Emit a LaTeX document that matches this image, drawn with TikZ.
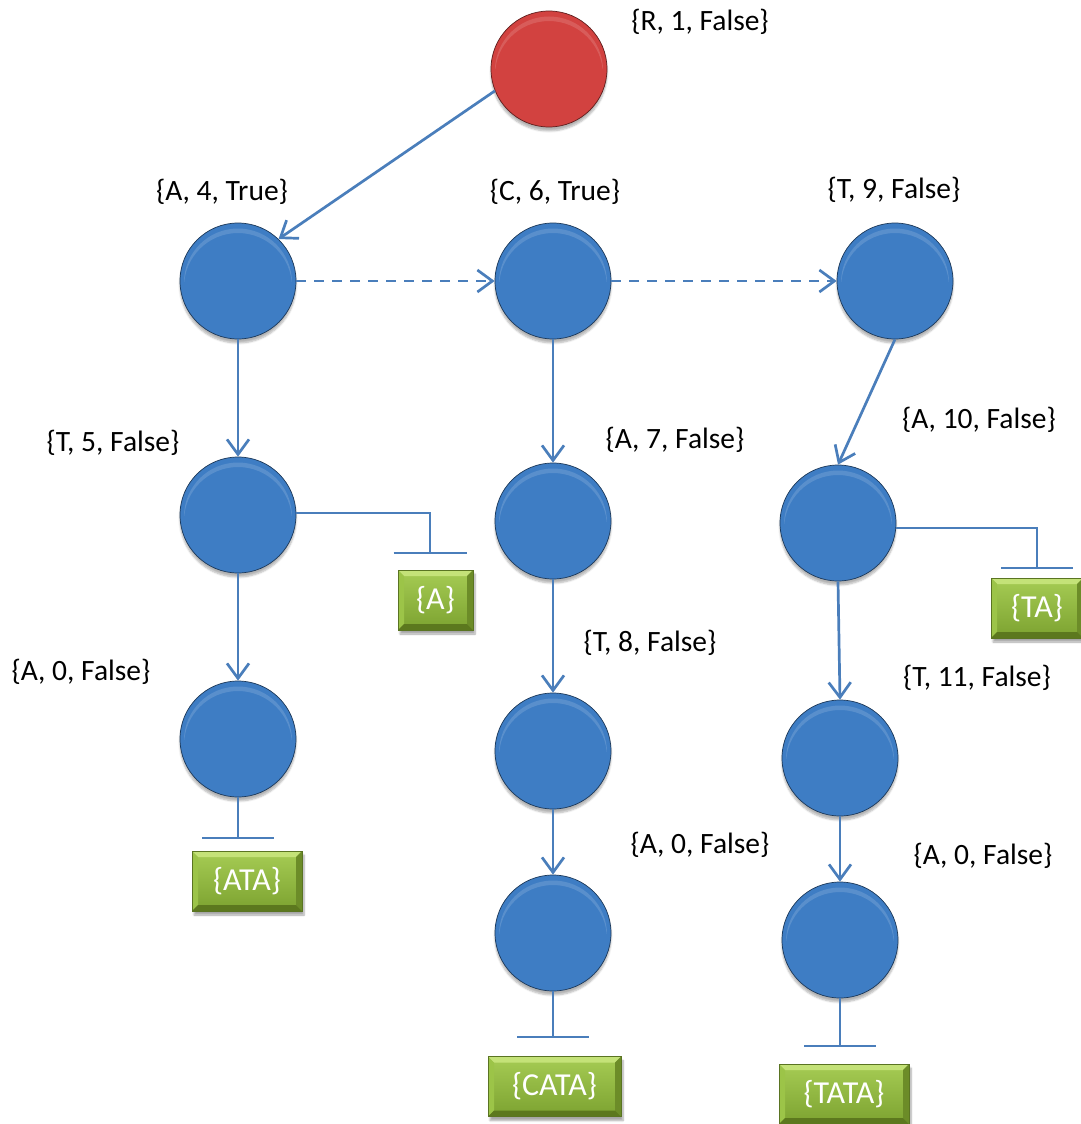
\documentclass[tikz,border=0pt]{standalone}
\usepackage{fontspec}
\setmainfont{Carlito}
\usetikzlibrary{arrows.meta,shadows.blur}

\definecolor{lineblue}{RGB}{74,126,187}
\definecolor{ballblue}{RGB}{62,125,196}
\definecolor{ballred}{RGB}{210,66,64}
\definecolor{gfacetop}{RGB}{166,204,84}
\definecolor{gfacebot}{RGB}{124,162,48}
\definecolor{gbevtop}{RGB}{196,226,120}
\definecolor{gbevleft}{RGB}{156,196,72}
\definecolor{gbevright}{RGB}{108,140,40}
\definecolor{gbevbot}{RGB}{92,120,30}
\definecolor{gedge}{RGB}{90,116,34}

% bevelled sphere look: flat face, darker rim
\pgfdeclareradialshading{bluebevel}{\pgfpoint{0bp}{2bp}}{%
  color(0bp)=(ballblue); color(38bp)=(ballblue);
  color(46bp)=(ballblue!76!black); color(50bp)=(ballblue!50!black)}
\pgfdeclareradialshading{redbevel}{\pgfpoint{0bp}{2bp}}{%
  color(0bp)=(ballred); color(38bp)=(ballred);
  color(46bp)=(ballred!76!black); color(50bp)=(ballred!50!black)}

\tikzset{
  ball/.style={circle, minimum size=116pt, inner sep=0pt, line width=0.7pt,
    blur shadow={shadow xshift=0pt, shadow yshift=-4pt, shadow opacity=30, shadow blur steps=6},
    path picture={
      \begin{scope}
        \clip ([xshift=-60pt]path picture bounding box.center) rectangle
              ([xshift=60pt,yshift=60pt]path picture bounding box.center);
        \fill[white, opacity=.14, even odd rule]
          ([yshift=-1.5pt]path picture bounding box.center) circle (54pt)
          ([yshift=-6pt]path picture bounding box.center) circle (54pt);
      \end{scope}}},
  blueball/.style={ball, shading=bluebevel, draw=ballblue!45!black},
  redball/.style={ball, shading=redbevel, draw=ballred!45!black},
  gbox/.style={rectangle, minimum height=60pt, inner sep=0pt,
    text=white, font=\fontsize{32}{36}\selectfont,
    draw=gedge, line width=0.6pt, top color=gfacetop, bottom color=gfacebot,
    blur shadow={shadow xshift=2pt, shadow yshift=-4pt, shadow opacity=35, shadow blur steps=6},
    path picture={
      \fill[gbevtop] (path picture bounding box.north west) -- (path picture bounding box.north east)
        -- ([xshift=-6pt,yshift=-6pt]path picture bounding box.north east)
        -- ([xshift=6pt,yshift=-6pt]path picture bounding box.north west) -- cycle;
      \fill[gbevleft] (path picture bounding box.north west) -- (path picture bounding box.south west)
        -- ([xshift=6pt,yshift=6pt]path picture bounding box.south west)
        -- ([xshift=6pt,yshift=-6pt]path picture bounding box.north west) -- cycle;
      \fill[gbevright] (path picture bounding box.north east) -- (path picture bounding box.south east)
        -- ([xshift=-6pt,yshift=6pt]path picture bounding box.south east)
        -- ([xshift=-6pt,yshift=-6pt]path picture bounding box.north east) -- cycle;
      \fill[gbevbot] (path picture bounding box.south west) -- (path picture bounding box.south east)
        -- ([xshift=-6pt,yshift=6pt]path picture bounding box.south east)
        -- ([xshift=6pt,yshift=6pt]path picture bounding box.south west) -- cycle;}},
  lab/.style={inner sep=0pt, text=black, font=\fontsize{29.5}{34}\selectfont},
  arr/.style={draw=lineblue, line width=2.7pt,
    -{Straight Barb[length=15pt, width=22pt, line width=2.7pt]}},
  dashedarr/.style={arr, dash pattern=on 10pt off 8pt},
  term/.style={draw=lineblue, line width=2.6pt},
}

\begin{document}
\begin{tikzpicture}[x=1pt, y=-1pt]
  \useasboundingbox (0,0) rectangle (1081,1124);

  % tree nodes
  \node[redball]  (r1)  at (549,69)  {};
  \node[blueball] (a4)  at (238,281) {};
  \node[blueball] (c6)  at (553,281) {};
  \node[blueball] (t9)  at (895,281) {};
  \node[blueball] (t5)  at (238,515) {};
  \node[blueball] (a7)  at (553,521) {};
  \node[blueball] (a10) at (838,523) {};
  \node[blueball] (a0l) at (238,739) {};
  \node[blueball] (t8)  at (553,751) {};
  \node[blueball] (t11) at (840,758) {};
  \node[blueball] (a0m) at (553,933) {};
  \node[blueball] (a0r) at (840,940) {};

  % node labels
  \node[lab] (lr1)  at (700,22)  {\{R, 1, False\}};
  \node[lab] (la4)  at (222,192) {\{A, 4, True\}};
  \node[lab] (lc6)  at (555,192) {\{C, 6, True\}};
  \node[lab] (lt9)  at (894,190) {\{T, 9, False\}};
  \node[lab] (lt5)  at (113,443) {\{T, 5, False\}};
  \node[lab] (la7)  at (675,440) {\{A, 7, False\}};
  \node[lab] (la10) at (979,420) {\{A, 10, False\}};
  \node[lab] (la0l) at (81,672)  {\{A, 0, False\}};
  \node[lab] (lt8)  at (650,643) {\{T, 8, False\}};
  \node[lab] (lt11) at (977,678) {\{T, 11, False\}};
  \node[lab] (la0m) at (700,845) {\{A, 0, False\}};
  \node[lab] (la0r) at (983,856) {\{A, 0, False\}};

  % output sets
  \node[gbox, minimum width=75pt]  (sA)    at (435.5,600)  {\{A\}};
  \node[gbox, minimum width=110pt] (sATA)  at (247,881)    {\{ATA\}};
  \node[gbox, minimum width=133pt] (sCATA) at (554.5,1086.5) {\{CATA\}};
  \node[gbox, minimum width=92pt]  (sTA)   at (1037,608)   {\{TA\}};
  \node[gbox, minimum width=130pt] (sTATA) at (844,1094)   {\{TATA\}};

  % child links
  \draw[arr] (r1.202) -- (a4.46);
  \draw[dashedarr] (a4.east) -- (c6.west);
  \draw[dashedarr] (c6.east) -- (t9.west);
  \draw[arr] (a4.south) -- (t5.north);
  \draw[arr] (t5.south) -- (a0l.north);
  \draw[arr] (c6.south) -- (a7.north);
  \draw[arr] (a7.south) -- (t8.north);
  \draw[arr] (t8.south) -- (a0m.north);
  \draw[arr] (t9.south) -- (a10.north);
  \draw[arr] (a10.south) -- (t11.north);
  \draw[arr] (t11.south) -- (a0r.north);

  % terminal markers
  \coordinate (kA)    at (430,553);
  \coordinate (kATA)  at (238,838);
  \coordinate (kCATA) at (553,1037);
  \coordinate (kTA)   at (1037,568);
  \coordinate (kTATA) at (840,1046);

  \draw[term] (t5.2) -| (kA);
  \draw[term] ([xshift=-36.5pt]kA) -- ([xshift=36.5pt]kA);
  \draw[term] (a0l.south) -- (kATA);
  \draw[term] ([xshift=-36pt]kATA) -- ([xshift=36pt]kATA);
  \draw[term] (a0m.south) -- (kCATA);
  \draw[term] ([xshift=-36pt]kCATA) -- ([xshift=36pt]kCATA);
  \draw[term] (a10.-5) -| (kTA);
  \draw[term] ([xshift=-36pt]kTA) -- ([xshift=36pt]kTA);
  \draw[term] (a0r.south) -- (kTATA);
  \draw[term] ([xshift=-36pt]kTATA) -- ([xshift=36pt]kTATA);
\end{tikzpicture}
\end{document}
